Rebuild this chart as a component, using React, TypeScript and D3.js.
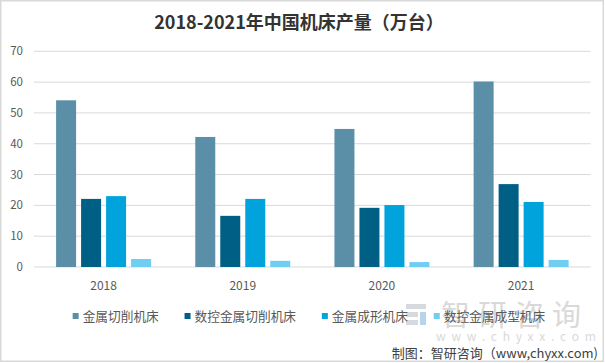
import * as d3 from "d3";

const years = ["2018", "2019", "2020", "2021"];
const seriesNames = ["金属切削机床", "数控金属切削机床", "金属成形机床", "数控金属成型机床"];
const metalCutting = [54.1, 42.2, 44.8, 60.2];
const cncMetalCutting = [22.1, 16.6, 19.2, 26.9];
const metalForming = [23.0, 22.1, 20.1, 21.1];
const cncMetalForming = [2.6, 2.0, 1.6, 2.3];
const yTicks = [0, 10, 20, 30, 40, 50, 60, 70];

const seriesColors = ["#5B8FA7", "#005F85", "#00A3DB", "#70CEF3"];
const font = "'Noto Sans CJK SC', 'Noto Sans', sans-serif";

export default function App() {
  const width = 605;
  const height = 363;
  const plot = { left: 34, right: 590.7, top: 51.3, bottom: 267 };
  const series = [metalCutting, cncMetalCutting, metalForming, cncMetalForming];

  const x0 = d3.scaleBand(years, [plot.left, plot.right]);
  const x1 = d3.scaleBand(d3.range(series.length), [0, x0.bandwidth()]).paddingInner(0.2).paddingOuter(0.884);
  const y = d3.scaleLinear([0, 70], [plot.bottom, plot.top]);

  // legend laid out left to right, centred under the plot
  const legendFont = 12.7;
  const itemWidths = seriesNames.map((name) => 10 + name.length * legendFont + 25.7);
  const legendTotal = d3.sum(itemWidths) - 25.7;
  let cursor = 309 - legendTotal / 2;
  const legendItems = seriesNames.map((name, i) => {
    const item = { name, x: cursor, color: seriesColors[i] };
    cursor += itemWidths[i];
    return item;
  });

  return (
    <svg
      width={width}
      height={height}
      viewBox={`0 0 ${width} ${height}`}
      style={{ position: "absolute", left: 0, top: 0, background: "#fff" }}
      fontFamily={font}
    >
      <rect x="0.75" y="0.75" width={width - 2.5} height={height - 2.5} fill="#fff" stroke="#D9D9D9" strokeWidth="1.5" />
      <text x={299} y={29} textAnchor="middle" fontSize="18" fontWeight="bold" fill="#333">
        2018-2021年中国机床产量（万台）
      </text>
      {yTicks.map((tick) => (
        <g key={tick}>
          <line x1={plot.left} x2={plot.right} y1={y(tick)} y2={y(tick)} stroke="#D9D9D9" strokeWidth="1" />
          <text x={23} y={y(tick) + 4} textAnchor="end" fontSize="11.5" fill="#595959">
            {tick}
          </text>
        </g>
      ))}
      {years.map((year, yi) => (
        <g key={year} transform={`translate(${x0(year)},0)`}>
          {series.map((values, si) => (
            <rect
              key={si}
              x={x1(si)}
              y={y(values[yi])}
              width={x1.bandwidth()}
              height={plot.bottom - y(values[yi])}
              fill={seriesColors[si]}
            />
          ))}
          <text x={x0.bandwidth() / 2} y={290} textAnchor="middle" fontSize="12" fill="#595959">
            {year}
          </text>
        </g>
      ))}
      {/* watermark */}
      <g opacity="0.75">
        <rect x={406} y={304} width={20} height={5} fill="#C9CDD2" />
        <rect x={406} y={312} width={12} height={5} fill="#C9CDD2" />
        <rect x={420} y={312} width={6} height={13} fill="#9FC7E3" />
        <rect x={406} y={320} width={12} height={5} fill="#C9CDD2" />
        <text x={441} y={326} fontSize="29" fill="#CDCDCD" letterSpacing="8">
          智研咨询
        </text>
        <text x={436} y={341} fontSize="12" fill="#CDCDCD" letterSpacing="5.8">
          www.chyxx.com
        </text>
      </g>
      {legendItems.map((item) => (
        <g key={item.name} transform={`translate(${item.x},0)`}>
          <rect x={0} y={313} width={6} height={6} fill={item.color} />
          <text x={10} y={320.5} fontSize={legendFont} fill="#595959">
            {item.name}
          </text>
        </g>
      ))}
      <text x={598} y={358} textAnchor="end" fontSize="13" fill="#404040">
        制图：智研咨询（www,chyxx.com)
      </text>
    </svg>
  );
}
